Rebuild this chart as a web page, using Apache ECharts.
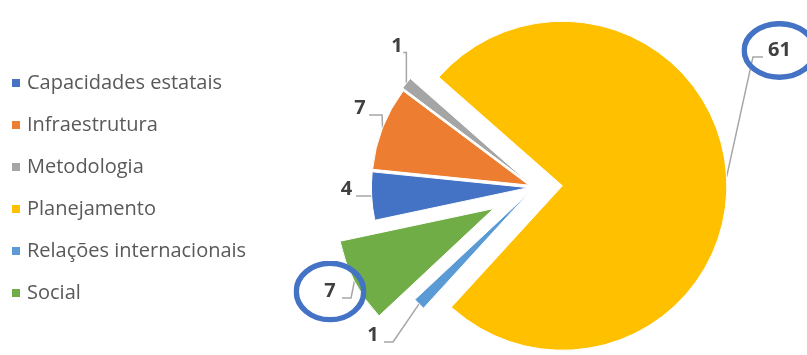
<!DOCTYPE html>
<html>
<head>
<meta charset="utf-8">
<script src="https://cdn.jsdelivr.net/npm/echarts@6/dist/echarts.min.js"></script>
<style>
  html, body { margin: 0; padding: 0; background: #fff; }
  #chart { width: 807px; height: 355px; }
</style>
</head>
<body>
<div id="chart"></div>
<script>
// ---- data ----
const categories = ['Capacidades estatais', 'Infraestrutura', 'Metodologia', 'Planejamento', 'Relações internacionais', 'Social'];
const values = [4, 7, 1, 61, 1, 7];

// ---- style / layout ----
const colors = ['#4472C4', '#ED7D31', '#A5A5A5', '#FFC000', '#5B9BD5', '#70AD47'];
const START_ANGLE = 192;
const BASE_CENTER = [534.4, 187.3];
const explode = [6, 6, 8, 28, 7, 46];          // slice explosion (px)
const radii = [157, 157, 157, 164.5, 157, 157];
const labelOffset = [[-25.1, -6.6], [-22.5, -19.5], [-9.4, -37.2], [52.8, -126.4], [-46.1, 31.6], [-24.4, 10.3]];
const leaderGap = [3.8, 3.3, 0.5, 5, 5.3, 6.3];
const leaderLen2 = [14, 13, 3.2, 10, 9, 9];
const LEADER_DROP = 6.5;
const rings = { 3: { w: 76, h: 59 }, 5: { w: 73, h: 62 } };
const LABEL_FONT = 'Open Sans';
const LABEL_SIZE = 20;
const LABEL_LH = 20;

const measureCtx = document.createElement('canvas').getContext('2d');
measureCtx.font = 'bold ' + LABEL_SIZE + 'px "' + LABEL_FONT + '"';
function textW(s) { return measureCtx.measureText(s).width; }

function ringImage(w, h) {
  const sw = 5.5;
  const svg = "<svg xmlns='http://www.w3.org/2000/svg' width='" + w + "' height='" + h + "' viewBox='0 0 " + w + " " + h + "'>" +
    "<ellipse cx='" + (w / 2) + "' cy='" + (h / 2) + "' rx='" + (w / 2 - sw / 2) + "' ry='" + (h / 2 - sw / 2) +
    "' fill='none' stroke='#4472C4' stroke-width='" + sw + "'/></svg>";
  return 'data:image/svg+xml;charset=utf-8,' + encodeURIComponent(svg);
}

const total = values.reduce((a, b) => a + b, 0);
let cum = 0;
const midDir = values.map(v => {
  const mid = (START_ANGLE - (cum + v / 2) / total * 360) * Math.PI / 180;
  cum += v;
  return [Math.cos(mid), -Math.sin(mid)];
});

function labelLayout(p) {
  const k = p.dataIndex;
  if (k !== p.seriesIndex || !p.labelLinePoints) return {};
  const a = [p.labelLinePoints[0][0], p.labelLinePoints[0][1]];
  const cx = a[0] + labelOffset[k][0];
  const cy = a[1] + labelOffset[k][1];
  const hw = textW(String(values[k])) / 2;
  const side = cx < a[0] ? 1 : -1;
  const ex = cx + side * (hw + leaderGap[k]);
  const ey = cy + LEADER_DROP;
  const tx = ex + side * leaderLen2[k];
  return {
    x: cx, y: cy, align: 'center', verticalAlign: 'middle',
    labelLinePoints: [a, [tx, ey], [ex, ey]]
  };
}

const series = categories.map((name, k) => ({
  type: 'pie',
  name: name,
  center: [BASE_CENTER[0] + explode[k] * midDir[k][0], BASE_CENTER[1] + explode[k] * midDir[k][1]],
  radius: radii[k],
  startAngle: START_ANGLE,
  clockwise: true,
  avoidLabelOverlap: false,
  animation: false,
  silent: true,
  label: {
    position: 'outside',
    formatter: '{c}',
    fontFamily: LABEL_FONT,
    fontWeight: 'bold',
    fontSize: LABEL_SIZE,
    lineHeight: LABEL_LH,
    color: '#404040'
  },
  labelLine: { length: 10, length2: 10, smooth: false, lineStyle: { color: '#A6A6A6', width: 1.5 } },
  itemStyle: { borderColor: '#ffffff', borderWidth: 1 },
  labelLayout: labelLayout,
  data: categories.map((n, i) => {
    const item = {
      name: n,
      value: values[i],
      itemStyle: { color: colors[i], opacity: i === k ? 1 : 0 },
      label: { show: i === k },
      labelLine: { show: i === k }
    };
    if (i === k && rings[i]) {
      const r = rings[i];
      const tw = textW(String(values[i]));
      item.label.backgroundColor = { image: ringImage(r.w, r.h) };
      item.label.padding = [(r.h - LABEL_LH) / 2, (r.w - tw) / 2];
    }
    return item;
  })
}));

const chart = echarts.init(document.getElementById('chart'), null, { renderer: 'canvas' });
chart.setOption({
  backgroundColor: '#ffffff',
  animation: false,
  legend: {
    orient: 'vertical',
    left: 12,
    top: 72,
    padding: 0,
    itemGap: 20,
    itemWidth: 8,
    itemHeight: 8,
    icon: 'rect',
    selectedMode: false,
    data: categories.map((n, i) => ({ name: n, itemStyle: { color: colors[i], opacity: 1, borderWidth: 0 } })),
    textStyle: { fontFamily: LABEL_FONT, fontSize: 20, lineHeight: 22, color: '#595959', padding: [0, 0, 0, 2] }
  },
  series: series
});
</script>
</body>
</html>
